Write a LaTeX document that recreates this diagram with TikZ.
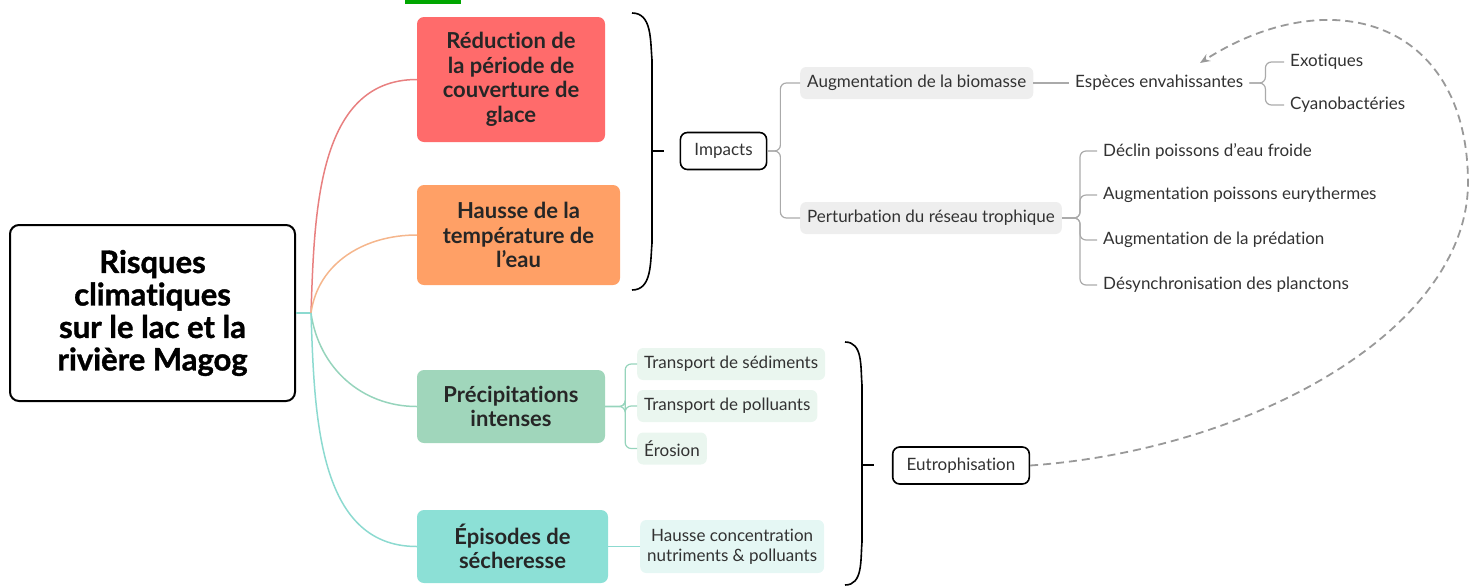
\documentclass[tikz,border=0pt]{standalone}
\usepackage{fontspec}
\setmainfont{Lato}[Ligatures=NoCommon]
\usetikzlibrary{arrows.meta}
\definecolor{riskRed}{RGB}{255,107,107}
\definecolor{riskOrange}{RGB}{255,160,102}
\definecolor{riskGreen}{RGB}{160,214,187}
\definecolor{riskTeal}{RGB}{140,224,214}
\definecolor{linkRed}{RGB}{232,128,128}
\definecolor{linkOrange}{RGB}{245,182,140}
\definecolor{linkGreen}{RGB}{150,212,188}
\definecolor{linkTeal}{RGB}{140,218,208}
\definecolor{leafMint}{RGB}{234,246,239}
\definecolor{leafTeal}{RGB}{229,247,244}
\definecolor{leafGray}{RGB}{238,238,238}
\definecolor{treeGray}{RGB}{170,170,170}
\definecolor{labelGray}{RGB}{50,50,50}

\begin{document}
\begin{tikzpicture}[x=1pt, y=-1pt, font=\fontsize{17}{21}\selectfont,
  rootbox/.style={draw, line width=2pt, rounded corners=9pt, fill=white, align=center,
    minimum width=285pt, minimum height=176pt,
    font=\fontsize{31}{32.5}\selectfont\bfseries\addfontfeatures{FakeBold=1.2}},
  riskbox/.style={rounded corners=7pt, align=center, text=black!85,
    font=\fontsize{22}{24.5}\selectfont\bfseries},
  hubbox/.style={draw, line width=1.6pt, rounded corners=7pt, fill=white, text=labelGray,
    minimum height=37pt, inner xsep=14pt},
  leafbox/.style={rounded corners=6pt, text=labelGray, anchor=west, minimum height=32pt, inner xsep=7pt},
  leaf/.style={text=labelGray, anchor=west, inner sep=6pt},
  tree/.style={treeGray, line width=1.2pt, rounded corners=6pt},
  brace/.style={black, line width=1.6pt}]
  \useasboundingbox (0,0) rectangle (1480,587);
  \fill[green!65!black] (405,0) rectangle (461,4);

  % Root and the four risks
  \node[rootbox] (root) at (152.5,313) {Risques\\climatiques\\sur le lac et la\\rivière Magog};
  \node[riskbox, fill=riskRed, minimum width=188pt, minimum height=125pt] (glace) at (511,79.5)
    {Réduction de\\la période de\\couverture de\\glace};
  \node[riskbox, fill=riskOrange, minimum width=203pt, minimum height=100pt] (temp) at (518.5,235)
    {Hausse de la\\température de\\l’eau};
  \node[riskbox, fill=riskGreen, minimum width=188pt, minimum height=73pt] (precip) at (511,406.5)
    {Précipitations\\intenses};
  \node[riskbox, fill=riskTeal, minimum width=191pt, minimum height=73pt] (seche) at (512.5,546.5)
    {Épisodes de\\sécheresse};

  \draw[linkTeal, line width=1.5pt] (root.east) -- ++(15,0) coordinate (hub);
  \draw[linkRed, line width=1.5pt] (hub) to[out=88, in=180] (glace.west);
  \draw[linkOrange, line width=1.5pt] (hub) to[out=82, in=180] (temp.west);
  \draw[linkGreen, line width=1.5pt] (hub) to[out=-82, in=180] (precip.west);
  \draw[linkTeal, line width=1.5pt] (hub) to[out=-88, in=180] (seche.west);

  % Impacts branch
  \draw[brace] (632,13) to[out=0, in=95] (652,60) -- (652,243) to[out=-95, in=0] (632,290);
  \draw[brace] (652,151) -- (664,151) coordinate (tipA);
  \node[hubbox] (impacts) at (723.5,151) {Impacts};
  \node[leafbox, fill=leafGray] (bio) at (800,83) {Augmentation de la biomasse};
  \node[leafbox, fill=leafGray] (pert) at (800,218) {Perturbation du réseau trophique};
  \draw[tree] (impacts.east) -- ++(13,0) |- (bio.west);
  \draw[tree] (impacts.east) -- ++(13,0) |- (pert.west);

  \node[leaf] (esp) at (1069,83) {Espèces envahissantes};
  \node[leaf] (exo) at (1284,62) {Exotiques};
  \node[leaf] (cyano) at (1284,105) {Cyanobactéries};
  \draw[tree] (bio.east) -- (esp.west);
  \draw[tree] (esp.east) -- ++(16,0) |- (exo.west);
  \draw[tree] (esp.east) -- ++(16,0) |- (cyano.west);

  \foreach \y/\name/\txt in {151/froid/Déclin poissons d’eau froide,
      195/eury/Augmentation poissons eurythermes,
      240/preda/Augmentation de la prédation,
      285/plancton/Désynchronisation des planctons} {
    \node[leaf] (\name) at (1097,\y) {\txt};
    \draw[tree] (pert.east) -- ++(18,0) |- (\name.west);
  }

  % Eutrophisation branch
  \node[leafbox, fill=leafMint] (sed) at (637,364) {Transport de sédiments};
  \node[leafbox, fill=leafMint] (poll) at (637,406) {Transport de polluants};
  \node[leafbox, fill=leafMint] (eros) at (637,448.5) {Érosion};
  \foreach \name in {sed, poll, eros}
    \draw[tree, linkGreen] (precip.east) -- ++(20,0) |- (\name.west);
  \node[leafbox, fill=leafTeal, align=center, minimum height=53pt, font=\fontsize{17}{20}\selectfont]
    (conc) at (640,546.5) {Hausse concentration\\nutriments \& polluants};
  \draw[tree, linkTeal] (seche.east) -- (conc.west);

  \draw[brace] (845,342) to[out=0, in=95] (862,385) -- (862,542) to[out=-95, in=0] (845,585);
  \draw[brace] (862,465) -- (874,465) coordinate (tipB);
  \node[hubbox] (eutro) at (961,465.5) {Eutrophisation};

  % Feedback loop
  \coordinate (loopEnd) at (1200,63);
  \draw[treeGray!90!black, line width=1.8pt, dash pattern=on 8pt off 5pt, -{Stealth[length=10pt, width=8pt]}]
    (eutro.east) .. controls (1250,450) and (1470,330) .. (1468,180)
    .. controls (1466,20) and (1330,-20) .. (loopEnd);
\end{tikzpicture}
\end{document}
